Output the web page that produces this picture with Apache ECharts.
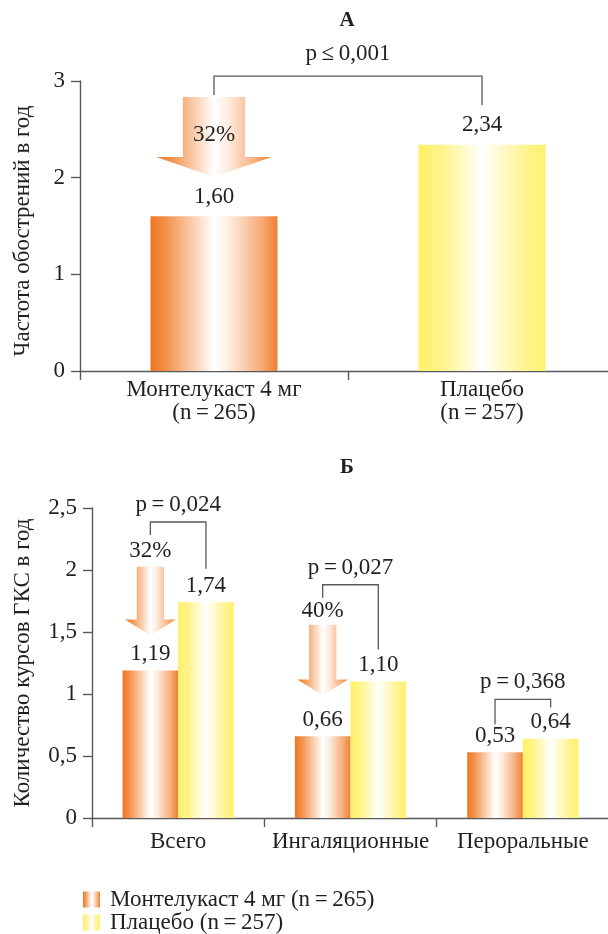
<!DOCTYPE html>
<html><head><meta charset="utf-8">
<script src="https://cdn.jsdelivr.net/npm/echarts@6/dist/echarts.min.js"></script>
<style>html,body{margin:0;padding:0;background:#fff}#c{width:608px;height:934px}</style>
</head><body><div id="c"></div>
<script>
// ---- data ----
const categoriesA = ['Монтелукаст 4 мг\n(n\u2009=\u2009265)', 'Плацебо\n(n\u2009=\u2009257)'];
const valuesA = [1.60, 2.34];
const yTicksA = [0, 1, 2, 3];
const categoriesB = ['Всего', 'Ингаляционные', 'Пероральные'];
const montelukastB = [1.19, 0.66, 0.53];
const placeboB = [1.74, 1.10, 0.64];
const yTicksB = [0, 0.5, 1, 1.5, 2, 2.5];
const seriesNames = ['Монтелукаст 4 мг (n\u2009=\u2009265)', 'Плацебо (n\u2009=\u2009257)'];
const axisNameA = 'Частота обострений в год';
const axisNameB = 'Количество курсов ГКС в год';
const pLabelA = ['p\u2009≤\u20090,001'];
const pLabelsB = ['p\u2009=\u20090,024', 'p\u2009=\u20090,027', 'p\u2009=\u20090,368'];
// brackets: [left category, right category, left foot, right foot, top] (axis units)
const bracketA = [[0, 1, 2.855, 2.75, 3.05]];
const bracketsB = [[0, 0, 2.283, 2.01, 2.387], [1, 1, 1.777, 1.359, 1.881], [2, 2, 0.756, 0.892, 0.957]];
// arrows: [category, top, head start, tip, label y] (axis units)
const arrowA = [[0, 2.834, 2.214, 2.007, 2.44]];
const arrowsB = [[0, 2.026, 1.60, 1.471, 2.154], [1, 1.559, 1.117, 0.989, 1.672]];
const reductionA = ['32%'];
const reductionB = ['32%', '40%'];

// ---- style ----
const FONT = '"Liberation Serif", "DejaVu Serif", serif';
const INK = '#231f20';
const LINE = '#58595b';
const FS = 23;
function orange() {
  return new echarts.graphic.LinearGradient(0, 0, 1, 0, [
    {offset: 0, color: '#EE7722'}, {offset: 0.12, color: '#F29048'},
    {offset: 0.35, color: '#FAD3B5'}, {offset: 0.5, color: '#FFFFFF'},
    {offset: 0.62, color: '#FDEDE0'}, {offset: 0.86, color: '#F6AE7C'},
    {offset: 1, color: '#F08030'}]);
}
function yellow() {
  return new echarts.graphic.LinearGradient(0, 0, 1, 0, [
    {offset: 0, color: '#FFF066'}, {offset: 0.2, color: '#FFF48E'},
    {offset: 0.5, color: '#FFFFFF'}, {offset: 0.8, color: '#FFF59C'},
    {offset: 1, color: '#FFF06A'}]);
}
const comma = v => String(v).replace('.', ',');
const BAR_A = 0.474, BAR_B = 0.3227;

function bracketItem(labels, offs, gap) {
  return function (params, api) {
    const band = api.size([1, 0])[0];
    const d = offs(band);
    const pL = api.coord([api.value(0), api.value(2)]);
    const pR = api.coord([api.value(1), api.value(3)]);
    const pT = api.coord([api.value(0), api.value(4)]);
    const xl = pL[0] + d[0], xr = pR[0] + d[1], yt = pT[1];
    return {type: 'group', children: [
      {type: 'polyline', shape: {points: [[xl, pL[1]], [xl, yt], [xr, yt], [xr, pR[1]]]},
       style: {stroke: LINE, lineWidth: 1.3, fill: null}},
      {type: 'text', style: {text: labels[params.dataIndex], x: (xl + xr) / 2, y: yt - gap,
       align: 'center', verticalAlign: 'middle', font: FS + 'px ' + FONT, fill: INK}}
    ]};
  };
}
function arrowItem(labels, offs) {
  return function (params, api) {
    const band = api.size([1, 0])[0];
    const d = offs(band);
    const c = api.coord([api.value(0), api.value(1)]);
    const cx = c[0] + d[0], bw = d[1];
    const yTop = c[1];
    const yHead = api.coord([api.value(0), api.value(2)])[1];
    const yTip = api.coord([api.value(0), api.value(3)])[1];
    const yLab = api.coord([api.value(0), api.value(4)])[1];
    const s = bw * 0.245, h = bw * 0.455;
    return {type: 'group', children: [
      {type: 'polygon', shape: {points: [[cx - s, yTop], [cx + s, yTop], [cx + s, yHead], [cx + h, yHead],
        [cx, yTip], [cx - h, yHead], [cx - s, yHead]]}, style: {fill: orange()}},
      {type: 'text', z2: 10, style: {text: labels[params.dataIndex], x: cx, y: yLab, align: 'center',
       verticalAlign: 'middle', font: FS + 'px ' + FONT, fill: INK}}
    ]};
  };
}

const axisLine = {show: true, lineStyle: {color: LINE, width: 1.4}};
const txt = {fontFamily: FONT, fontSize: FS, color: INK};
const legendBase = {orient: 'vertical', left: 83, padding: 0, itemWidth: 17, itemHeight: 16, icon: 'rect',
  textStyle: Object.assign({padding: [0, 0, 0, 5]}, txt)};

const chart = echarts.init(document.getElementById('c'), null, {renderer: 'canvas'});
chart.setOption({
  animation: false,
  backgroundColor: '#fff',
  textStyle: {fontFamily: FONT},
  graphic: [
    {type: 'text', x: 347, y: 21, style: {text: 'А', align: 'center', verticalAlign: 'middle', font: 'bold 21px ' + FONT, fill: INK}},
    {type: 'text', x: 347, y: 468, style: {text: 'Б', align: 'center', verticalAlign: 'middle', font: 'bold 21px ' + FONT, fill: INK}}
  ],
  legend: [
    Object.assign({top: 888, data: [seriesNames[0]]}, legendBase),
    Object.assign({top: 911, data: [seriesNames[1]]}, legendBase)
  ],
  grid: [
    {left: 80, top: 81, width: 536, height: 290, outerBoundsMode: 'none', containLabel: false},
    {left: 92, top: 508, width: 517, height: 310, outerBoundsMode: 'none', containLabel: false}
  ],
  xAxis: [
    {type: 'category', gridIndex: 0, data: categoriesA, axisLine: axisLine,
     axisTick: {show: true, length: 9, lineStyle: {color: LINE, width: 1.4}},
     axisLabel: Object.assign({margin: 7, lineHeight: 23, interval: 0}, txt)},
    {type: 'category', gridIndex: 1, data: categoriesB, axisLine: axisLine,
     axisTick: {show: true, length: 9, lineStyle: {color: LINE, width: 1.4}},
     axisLabel: Object.assign({margin: 12, interval: 0, hideOverlap: false}, txt)}
  ],
  yAxis: [
    {type: 'value', gridIndex: 0, min: yTicksA[0], max: yTicksA[yTicksA.length - 1], interval: 1,
     axisLine: axisLine, axisTick: {show: true, length: 9, lineStyle: {color: LINE, width: 1.4}},
     splitLine: {show: false}, axisLabel: Object.assign({margin: 15, formatter: comma}, txt),
     name: axisNameA, nameLocation: 'middle', nameRotate: 90, nameGap: 46,
     nameTextStyle: Object.assign({padding: [0, 10, 0, 0]}, txt)},
    {type: 'value', gridIndex: 1, min: yTicksB[0], max: yTicksB[yTicksB.length - 1], interval: 0.5,
     axisLine: axisLine, axisTick: {show: true, length: 9, lineStyle: {color: LINE, width: 1.4}},
     splitLine: {show: false}, axisLabel: Object.assign({margin: 15, formatter: comma}, txt),
     name: axisNameB, nameLocation: 'middle', nameRotate: 90, nameGap: 58, nameTextStyle: txt}
  ],
  series: [
    {name: 'A', type: 'bar', xAxisIndex: 0, yAxisIndex: 0, barWidth: (BAR_A * 100) + '%',
     data: valuesA.map((v, i) => ({value: v, itemStyle: {color: i === 0 ? orange() : yellow()}})),
     label: Object.assign({show: true, position: 'top', distance: 8, formatter: p => p.value.toFixed(2).replace('.', ',')}, txt)},
    {name: seriesNames[0], type: 'bar', xAxisIndex: 1, yAxisIndex: 1, barWidth: (BAR_B * 100) + '%', barGap: '0%',
     itemStyle: {color: orange()}, data: montelukastB,
     label: Object.assign({show: true, position: 'top', distance: 5, formatter: p => p.value.toFixed(2).replace('.', ',')}, txt)},
    {name: seriesNames[1], type: 'bar', xAxisIndex: 1, yAxisIndex: 1, barWidth: (BAR_B * 100) + '%', barGap: '0%',
     itemStyle: {color: yellow()}, data: placeboB,
     label: Object.assign({show: true, position: 'top', distance: 5, formatter: p => p.value.toFixed(2).replace('.', ',')}, txt)},
    {type: 'custom', xAxisIndex: 0, yAxisIndex: 0, silent: true, z: 5, data: bracketA,
     renderItem: bracketItem(pLabelA, b => [0, 0], 22)},
    {type: 'custom', xAxisIndex: 0, yAxisIndex: 0, silent: true, z: 5, data: arrowA,
     renderItem: arrowItem(reductionA, b => [0, b * BAR_A])},
    {type: 'custom', xAxisIndex: 1, yAxisIndex: 1, silent: true, z: 5, data: bracketsB,
     renderItem: bracketItem(pLabelsB, b => [-b * BAR_B / 2, b * BAR_B / 2], 17)},
    {type: 'custom', xAxisIndex: 1, yAxisIndex: 1, silent: true, z: 5, data: arrowsB,
     renderItem: arrowItem(reductionB, b => [-b * BAR_B / 2, b * BAR_B])}
  ]
});
</script>
</body></html>
